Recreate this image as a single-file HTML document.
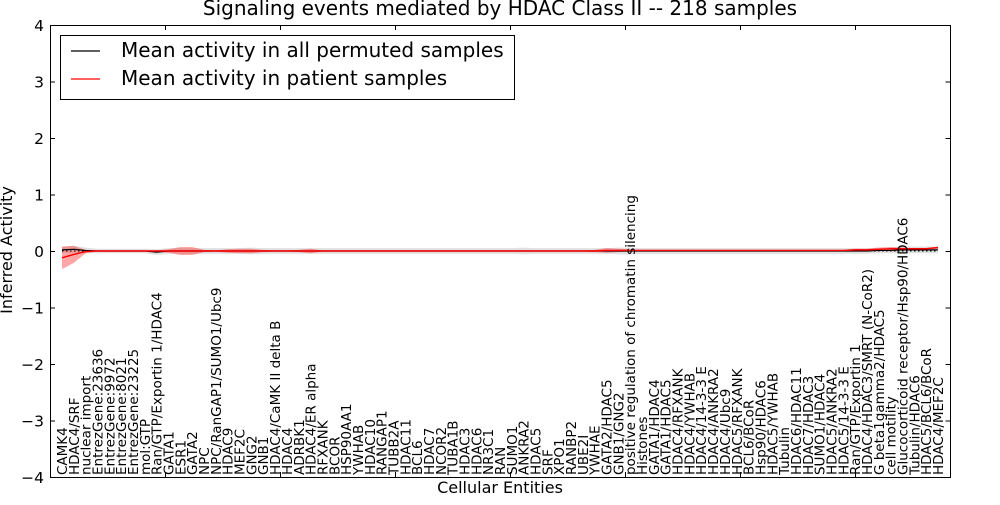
<!DOCTYPE html>
<html><head><meta charset="utf-8"><style>
body{margin:0;background:#fff;}
svg{font-family:"DejaVu Sans","Liberation Sans",sans-serif;}
</style></head><body>
<svg id="chart" width="1000" height="500" xmlns="http://www.w3.org/2000/svg">
<rect width="1000" height="500" fill="#fff"/>
<text x="500" y="15" font-size="20" text-anchor="middle">Signaling events mediated by HDAC Class II -- 218 samples</text>
<g id="plot"></g>
<text x="12" y="250" font-size="16" text-anchor="middle" transform="rotate(-90 12 250)">Inferred Activity</text>
<text x="500" y="493" font-size="16" text-anchor="middle">Cellular Entities</text>
<g>
<rect x="60.5" y="35.5" width="454" height="64" fill="#fff" stroke="#000" stroke-width="1"/>
<line x1="71" y1="51" x2="100" y2="51" stroke="#000" stroke-width="1.2"/>
<text x="121" y="57" font-size="20">Mean activity in all permuted samples</text>
<line x1="71" y1="79" x2="100" y2="79" stroke="#f00" stroke-width="1.2"/>
<text x="121" y="85" font-size="20">Mean activity in patient samples</text>
</g>
</svg>
<script>
const categories=["CAMK4","HDAC4/SRF","nuclear import","EntrezGene:23636","EntrezGene:9972","EntrezGene:8021","EntrezGene:23225","mol:GTP","Ran/GTP/Exportin 1/HDAC4","GATA1","ESR1","GATA2","NPC","NPC/RanGAP1/SUMO1/Ubc9","HDAC9","MEF2C","GNG2","GNB1","HDAC4/CaMK II delta B","HDAC4","ADRBK1","HDAC4/ER alpha","RFXANK","BCOR","HSP90AA1","YWHAB","HDAC10","RANGAP1","TUBB2A","HDAC11","BCL6","HDAC7","NCOR2","TUBA1B","HDAC3","HDAC6","NR3C1","RAN","SUMO1","ANKRA2","HDAC5","SRF","XPO1","RANBP2","UBE2I","YWHAE","GATA2/HDAC5","GNB1/GNG2","positive regulation of chromatin silencing","Histones","GATA1/HDAC4","GATA1/HDAC5","HDAC4/RFXANK","HDAC4/YWHAB","HDAC4/14-3-3 E","HDAC4/ANKRA2","HDAC4/Ubc9","HDAC5/RFXANK","BCL6/BCoR","Hsp90/HDAC6","HDAC5/YWHAB","Tubulin","HDAC6/HDAC11","HDAC7/HDAC3","SUMO1/HDAC4","HDAC5/ANKRA2","HDAC5/14-3-3 E","Ran/GTP/Exportin 1","HDAC4/HDAC3/SMRT (N-CoR2)","G beta1gamma2/HDAC5","cell motility","Glucocorticoid receptor/Hsp90/HDAC6","Tubulin/HDAC6","HDAC5/BCL6/BCoR","HDAC4/MEF2C"];
const yTicks=[-4,-3,-2,-1,0,1,2,3,4];
const patientMean=[-0.12,-0.06,-0.01,0,0,0,0,0,0,0,0,0,0,0,0,0,0,0,0,0,0,0,0,0,0,0,0,0,0,0,0,0,0,0,0,0,0,0,0,0,0,0,0,0,0,0,0.01,0.01,0.01,0.01,0.01,0.01,0.01,0.01,0.01,0.01,0.01,0.01,0.01,0.01,0.01,0.01,0.01,0.01,0.01,0.01,0.01,0.02,0.02,0.03,0.04,0.04,0.04,0.04,0.06];
const patientSpread=[0.2,0.15,0.03,0.01,0.01,0.01,0.01,0.01,0.01,0.03,0.07,0.07,0.02,0.01,0.03,0.04,0.04,0.02,0.01,0.01,0.02,0.04,0.01,0.01,0.01,0.01,0.01,0.01,0.01,0.01,0.01,0.01,0.01,0.01,0.01,0.01,0.01,0.01,0.01,0.01,0.01,0.01,0.01,0.01,0.01,0.02,0.04,0.03,0.02,0.01,0.01,0.01,0.01,0.01,0.01,0.01,0.01,0.01,0.01,0.01,0.01,0.01,0.01,0.01,0.01,0.01,0.01,0.02,0.02,0.03,0.03,0.02,0.01,0.01,0.02];
const permMean=[0.02,0.03,0.01,0,0,0,0,0,-0.02,0,0,0,0,0,0,0,0,0,0,0,0,0,0,0,0,0,0,0,0,0,0,0,0,0,0,0,0,0,0,0,0,0,0,0,0,0,0,0,0,0,0,0,0,0,0,0,0,0,0,0,0,0,0,0,0,0,0,0,0,0.01,0.01,0.02,0.02,0.02,0.02];
const permSpread=[0.05,0.06,0.05,0.04,0.04,0.04,0.04,0.04,0.05,0.05,0.05,0.05,0.05,0.05,0.05,0.05,0.06,0.05,0.05,0.05,0.05,0.05,0.05,0.05,0.05,0.05,0.05,0.05,0.05,0.05,0.05,0.05,0.05,0.05,0.05,0.05,0.05,0.05,0.05,0.06,0.05,0.05,0.05,0.05,0.05,0.05,0.05,0.06,0.06,0.05,0.05,0.05,0.05,0.05,0.05,0.05,0.05,0.05,0.05,0.05,0.05,0.05,0.05,0.05,0.05,0.05,0.05,0.05,0.05,0.05,0.05,0.06,0.06,0.06,0.06];

const L=50,R=950,T=25,B=477,X0=62,X1=938;
const NS="http://www.w3.org/2000/svg";
const g=document.getElementById('plot');
function xs(i){return X0+i*(X1-X0)/(categories.length-1);}
function ys(v){return T+(4-v)*(B-T)/8;}
function mk(tag,attrs){const e=document.createElementNS(NS,tag);for(const k in attrs)e.setAttribute(k,attrs[k]);g.appendChild(e);return e;}
function band(mean,spread,fill,op,name){
  let d='';
  mean.forEach((m,i)=>{d+=(i?'L':'M')+xs(i)+','+ys(m+spread[i]);});
  for(let i=mean.length-1;i>=0;i--)d+='L'+xs(i)+','+ys(mean[i]-spread[i]);
  const p=mk('path',{d:d+'Z',fill:fill,'fill-opacity':op,stroke:'none'});
  
  
}
function line(mean,col,w,name){
  const p=mk('polyline',{points:mean.map((m,i)=>xs(i)+','+ys(m)).join(' '),fill:'none',stroke:col,'stroke-width':w});
  
  
}
band(permMean,permSpread,'#999',0.3,'permuted-band');
band(patientMean,patientSpread,'#f00',0.35,'patient-band');
const zl=mk('line',{x1:X0,x2:X1,y1:ys(0),y2:ys(0),stroke:'#000','stroke-dasharray':'1.5,2.5','stroke-width':1});


line(permMean,'#000',1.2,'permuted-mean-line');
line(patientMean,'#f00',1.4,'patient-mean-line');
const fr=mk('rect',{x:L+0.5,y:T+0.5,width:R-L,height:B-T,fill:'none',stroke:'#000','stroke-width':1});


yTicks.forEach(v=>{
  const y=ys(v)+0.5;
  mk('line',{x1:L,x2:L+5,y1:y,y2:y,stroke:'#000'});
  mk('line',{x1:R+0.5,x2:R-4.5,y1:y,y2:y,stroke:'#000'});
  const t=mk('text',{x:L-6,y:y+5.5,'font-size':15.5,'text-anchor':'end'});
  t.textContent=v<0?'\u2212'+(-v):String(v);
  
  
});
for(let x=L+115;x<R;x+=115){
  mk('line',{x1:x+0.5,x2:x+0.5,y1:T,y2:T+5,stroke:'#000'});
  mk('line',{x1:x+0.5,x2:x+0.5,y1:B,y2:B-5,stroke:'#000'});
}
categories.forEach((c,i)=>{
  const x=xs(i)+5,y=B-2;
  const t=mk('text',{x:x,y:y,'font-size':13.5,transform:'rotate(-90 '+x+' '+y+')'});
  t.textContent=c;
  
  
});
</script>
</body></html>
